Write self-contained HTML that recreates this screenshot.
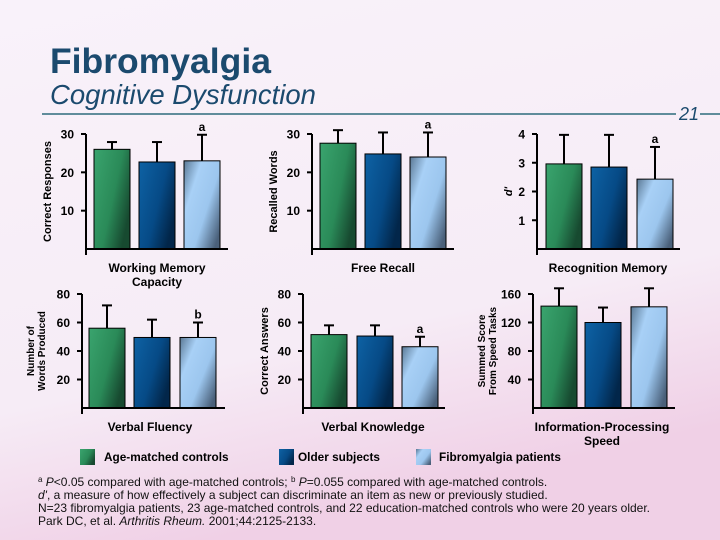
<!DOCTYPE html>
<html><head><meta charset="utf-8"><style>
body{margin:0;width:720px;height:540px;overflow:hidden;font-family:"Liberation Sans",sans-serif}
svg{display:block}
</style></head><body>
<svg id="s" width="720" height="540" viewBox="0 0 720 540">
<defs>
<linearGradient id="bg" x1="0" y1="0" x2="0.3" y2="1"><stop offset="0" stop-color="#f9f2fa"/><stop offset="0.7" stop-color="#f6ecf6"/><stop offset="1" stop-color="#f0d0e6"/></linearGradient>
<linearGradient id="g0" x1="0" y1="0" x2="1" y2="0.6"><stop offset="0" stop-color="#3aa46e"/><stop offset="0.6" stop-color="#2a8a58"/><stop offset="1" stop-color="#174a30"/></linearGradient>
<linearGradient id="g1" x1="0" y1="0" x2="1" y2="0.6"><stop offset="0" stop-color="#0e62a4"/><stop offset="0.6" stop-color="#064a86"/><stop offset="1" stop-color="#02264a"/></linearGradient>
<linearGradient id="g2" x1="0" y1="0" x2="1" y2="0.8"><stop offset="0" stop-color="#5a7894"/><stop offset="0.3" stop-color="#a8d0f6"/><stop offset="0.65" stop-color="#9cc6ee"/><stop offset="1" stop-color="#4a607a"/></linearGradient>
</defs>
<rect width="720" height="540" fill="url(#bg)"/>
<text x="50" y="73" font-size="35.5" font-weight="bold" fill="#1b4a6e">Fibromyalgia</text>
<text x="50" y="104" font-size="27.5" font-style="italic" fill="#1b4a6e">Cognitive Dysfunction</text>
<line x1="42" y1="114" x2="676" y2="114" stroke="#2d6b7c" stroke-width="1.5"/>
<line x1="700" y1="114" x2="720" y2="114" stroke="#2d6b7c" stroke-width="1.5"/>
<text x="679" y="120" font-size="18" font-style="italic" fill="#1b4a6e">21</text>
<g id="charts"></g>
<g>
<rect x="80" y="449" width="15" height="16" fill="url(#g0)"/>
<text x="104" y="461" font-size="11.8" font-weight="bold">Age-matched controls</text>
<rect x="279" y="449" width="15" height="16" fill="url(#g1)"/>
<text x="298" y="461" font-size="11.8" font-weight="bold">Older subjects</text>
<rect x="416" y="449" width="15" height="16" fill="url(#g2)"/>
<text x="439" y="461" font-size="11.8" font-weight="bold">Fibromyalgia patients</text>
</g>
<g font-size="12" fill="#111">
<text x="38" y="486"><tspan font-size="8" dy="-4">a</tspan><tspan dy="4" font-style="italic"> P</tspan>&lt;0.05 compared with age-matched controls; <tspan font-size="8" dy="-4">b</tspan><tspan dy="4" font-style="italic"> P</tspan>=0.055 compared with age-matched controls.</text>
<text x="38" y="499"><tspan font-style="italic">d'</tspan>, a measure of how effectively a subject can discriminate an item as new or previously studied.</text>
<text x="38" y="512">N=23 fibromyalgia patients, 23 age-matched controls, and 22 education-matched controls who were 20 years older.</text>
<text x="38" y="525">Park DC, et al. <tspan font-style="italic">Arthritis Rheum.</tspan> 2001;44:2125-2133.</text>
</g>
</svg>
<script>
const panelTitles = ["Working Memory|Capacity","Free Recall","Recognition Memory","Verbal Fluency","Verbal Knowledge","Information-Processing|Speed"];
const yTitles = ["Correct Responses","Recalled Words","d'","Number of|Words Produced","Correct Answers","Summed Score|From Speed Tasks"];
const groups = ["Age-matched controls","Older subjects","Fibromyalgia patients"];
const values = [[26,22.7,23],[27.6,24.8,24],[2.96,2.85,2.43],[56,49.5,49.5],[51.5,50.5,43],[143,120,142]];
const errorTops = [[27.9,27.9,29.8],[31,30.4,30.4],[3.97,3.97,3.55],[72,62,60],[58,58,50],[168,141,168]];
const sigMarks = [["","","a"],["","","a"],["","","a"],["","","b"],["","","a"],["","",""]];
const yMax = [30,30,4,80,80,160];
const yTicks = [[10,20,30],[10,20,30],[1,2,3,4],[20,40,60,80],[20,40,60,80],[40,80,120,160]];

const layout = [
 {ax:86,base:249,top:134,end:228,bx:[94,139,184],bw:36,lx:157,ly:272,tx:46},
 {ax:312,base:249,top:134,end:454,bx:[320,365,410],bw:36,lx:383,ly:272,tx:272},
 {ax:537,base:249,top:134,end:680,bx:[546,591,637],bw:36,lx:608,ly:272,tx:507},
 {ax:82,base:408,top:294,end:225,bx:[89,134,180],bw:36,lx:150,ly:431,tx:34},
 {ax:303,base:408,top:294,end:445,bx:[311,357,402],bw:36,lx:373,ly:431,tx:263},
 {ax:533,base:408,top:294,end:675,bx:[541,585,631],bw:36,lx:602,ly:431,tx:485}
];
const NS="http://www.w3.org/2000/svg";
const root=document.getElementById('charts');
function mk(tag,attrs,parent){const e=document.createElementNS(NS,tag);for(const k in attrs)e.setAttribute(k,attrs[k]);parent.appendChild(e);return e;}
panelTitles.forEach((pt,p)=>{
 const L=layout[p];
 const g=mk('g',{},root);
 
 
 const y=v=>L.base-(v/yMax[p])*(L.base-L.top);
 values[p].forEach((v,i)=>{
  const x=L.bx[i],cx=x+L.bw/2,et=y(errorTops[p][i]);
  const eb=mk('line',{x1:cx,y1:y(v),x2:cx,y2:et,stroke:'#000','stroke-width':2},g);
  
  
  const cap=mk('line',{x1:cx-5,y1:et,x2:cx+5,y2:et,stroke:'#000','stroke-width':2},g);
  
  
  const r=mk('rect',{x:x,y:y(v),width:L.bw,height:L.base-y(v),fill:'url(#g'+i+')',stroke:'#000','stroke-width':1},g);
  
  
  if(sigMarks[p][i]){
   const s=mk('text',{x:cx,y:et-4,'font-size':12,'font-weight':'bold','text-anchor':'middle'},g);
   s.textContent=sigMarks[p][i];
   
   
  }
 });
 const ya=mk('line',{x1:L.ax,y1:L.top,x2:L.ax,y2:L.base+6,stroke:'#000','stroke-width':2},g);
 
 
 const xa=mk('line',{x1:L.ax,y1:L.base,x2:L.end,y2:L.base,stroke:'#000','stroke-width':2},g);
 
 
 yTicks[p].forEach(t=>{
  const tk=mk('line',{x1:L.ax-5,y1:y(t),x2:L.ax,y2:y(t),stroke:'#000','stroke-width':2},g);
  
  
  const tl=mk('text',{x:L.ax-12,y:y(t)+4.5,'font-size':12,'font-weight':'bold','text-anchor':'end'},g);
  tl.textContent=t;
  
  
 });
 const lines=pt.split('|');
 lines.forEach((ln,k)=>{
  const t=mk('text',{x:L.lx,y:L.ly+k*14,'font-size':12,'font-weight':'bold','text-anchor':'middle'},g);
  t.textContent=ln;
  
  
 });
 const yl=yTitles[p].split('|');
 const cy=(L.top+L.base)/2;
 yl.forEach((ln,k)=>{
  const xx=L.tx+k*11-(yl.length-1)*5+5;
  const t=mk('text',{x:xx,y:cy,'font-size':yl.length>1?10:11,'font-weight':'bold','text-anchor':'middle',transform:'rotate(-90 '+xx+' '+cy+')','font-style':p===2?'italic':'normal'},g);
  t.textContent=ln;
  
  
 });
});
</script>
</body></html>
